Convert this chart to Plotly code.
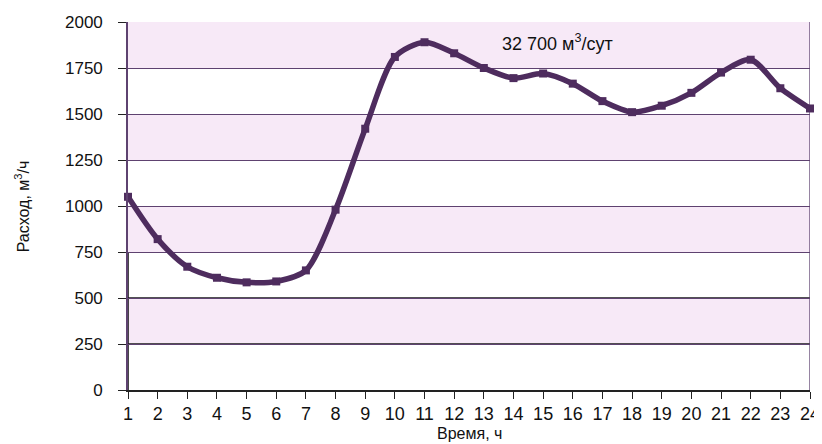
import plotly.graph_objects as go

hours = list(range(1, 25))
flow = [1050, 820, 670, 610, 585, 590, 650, 980, 1420, 1810, 1890, 1830,
        1750, 1695, 1720, 1665, 1570, 1510, 1545, 1615, 1725, 1795, 1640, 1530]
y_ticks = [0, 250, 500, 750, 1000, 1250, 1500, 1750, 2000]
band_starts = [250, 750, 1250, 1750]
dark_grid = [250, 500]

band_color = "#f7e9f7"
line_color = "#4e2c5e"
grid_color = "#5e4270"
font_family = "Liberation Sans, Arial, sans-serif"

fig = go.Figure()

# alternating bands between gridlines
for lo in band_starts:
    fig.add_shape(type="rect", xref="x", yref="y", x0=1, x1=24, y0=lo, y1=lo + 250,
                  fillcolor=band_color, line_width=0, layer="below")
# lower gridlines are black in the original
for v in dark_grid:
    fig.add_shape(type="line", xref="x", yref="y", x0=1, x1=24, y0=v, y1=v,
                  line=dict(color="#1a1a1a", width=1.3), layer="below")
fig.add_shape(type="line", xref="x", yref="y", x0=1, x1=1, y0=0, y1=750,
              line=dict(color="#1a1a1a", width=1.6), layer="below")
# right border
fig.add_shape(type="line", xref="x", yref="y", x0=24, x1=24, y0=0, y1=2000,
              line=dict(color=grid_color, width=1.3), layer="below")

fig.add_trace(go.Scatter(
    x=hours, y=flow, mode="lines+markers",
    line=dict(color=line_color, width=5.5, shape="spline", smoothing=0.8),
    marker=dict(symbol="square", size=8, color=line_color),
    showlegend=False, cliponaxis=False,
))

fig.add_annotation(x=15.47, y=1886, xref="x", yref="y", text="32 700 м<sup>3</sup>/сут",
                   showarrow=False, font=dict(size=18, color="#111"))
fig.add_annotation(x=0.5, y=-0.117, xref="paper", yref="paper", text="Время, ч",
                   xanchor="center", yanchor="middle",
                   showarrow=False, font=dict(size=16, color="#111"))
fig.add_annotation(x=-0.155, y=0.5, xref="paper", yref="paper", text="Расход, м<sup>3</sup>/ч",
                   xanchor="center", yanchor="middle",
                   textangle=-90, showarrow=False, font=dict(size=16, color="#111"))

fig.update_xaxes(
    range=[1, 24], tickvals=hours, ticks="outside", ticklen=7, tickcolor="#222",
    showgrid=False, zeroline=False, showline=True, linecolor="#222", linewidth=1.5,
    tickfont=dict(size=18, color="#111"), automargin=False,
)
fig.update_yaxes(
    range=[0, 2000], tickvals=y_ticks, ticks="outside", ticklen=8, tickcolor="#222",
    showgrid=True, gridcolor=grid_color, gridwidth=1.3, zeroline=False,
    showline=True, linecolor=grid_color, linewidth=1.6,
    tickfont=dict(size=17, color="#111"), ticklabelstandoff=12, automargin=False,
)

# the page adds an 8px body margin, so the figure is 8px smaller than the window
fig.update_layout(
    width=814, height=436,
    margin=dict(l=120, r=12, t=14, b=54),
    paper_bgcolor="white", plot_bgcolor="white",
    font=dict(family=font_family),
)

fig.write_html("out.html")
